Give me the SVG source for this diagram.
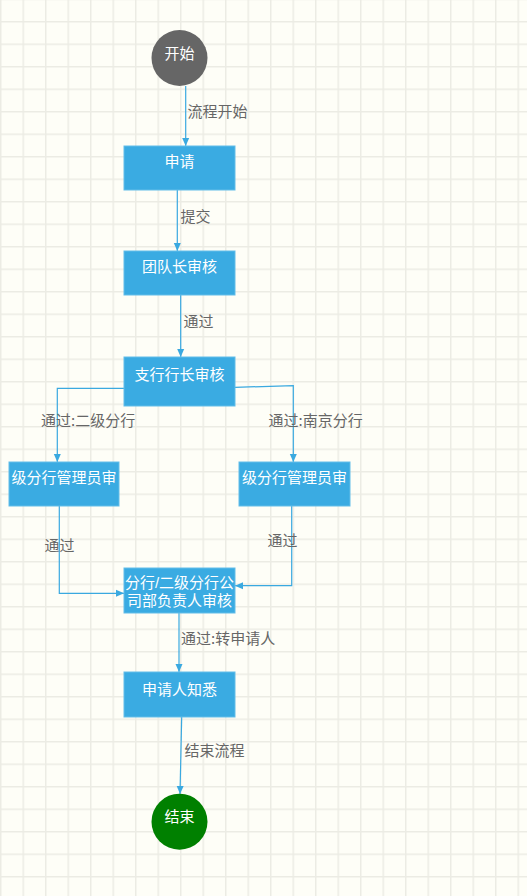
<svg xmlns="http://www.w3.org/2000/svg" width="527" height="896" viewBox="0 0 527 896">
<style>
.bg{fill:#fefef7}
.node rect{fill:#3aabe2;stroke:#62bde9;stroke-width:1}
.nt{font-family:"Noto Sans CJK SC","Noto Sans",sans-serif;font-size:15px;fill:#ffffff;text-anchor:middle}
.nt2{font-family:"Liberation Sans","Noto Sans CJK SC",sans-serif;font-size:15px;fill:#ffffff;text-anchor:middle}
.lb{font-family:"Noto Sans CJK SC","Noto Sans",sans-serif;font-size:15px;fill:#666666}
.edge{fill:none;stroke:#3aa9e0;stroke-width:1.2}
</style>
<defs>
<pattern id="grid" patternUnits="userSpaceOnUse" x="0" y="-1.5" width="22.5" height="22.5">
<rect x="0" y="0" width="1.5" height="22.5" fill="#ecece4"/>
<rect x="0" y="0" width="22.5" height="1.5" fill="#ecece4"/>
</pattern>
<marker id="arr" markerUnits="userSpaceOnUse" markerWidth="8" markerHeight="8" refX="8" refY="4" orient="auto">
<path d="M0,0.5 L8,4 L0,7.5 z" fill="#3aa9e0"/>
</marker>
</defs>
<rect class="bg" x="0" y="0" width="527" height="896"/>
<rect x="0" y="0" width="527" height="896" fill="url(#grid)"/>

<g id="connectors">
<path class="edge" d="M185.7 86 V146" marker-end="url(#arr)"/>
<path class="edge" d="M177.3 190 V251" marker-end="url(#arr)"/>
<path class="edge" d="M180.7 295 V357" marker-end="url(#arr)"/>
<path class="edge" d="M124 388.3 H57.3 V462" marker-end="url(#arr)"/>
<path class="edge" d="M235 387.3 L293.3 385.7 V462" marker-end="url(#arr)"/>
<path class="edge" d="M59.3 506 V593.3 H124" marker-end="url(#arr)"/>
<path class="edge" d="M291.7 506 V585.7 H235" marker-end="url(#arr)"/>
<path class="edge" d="M179 613 V672" marker-end="url(#arr)"/>
<path class="edge" d="M181.7 717 L180 794" marker-end="url(#arr)"/>
<text class="lb" x="187.5" y="117">流程开始</text>
<text class="lb" x="180.5" y="222">提交</text>
<text class="lb" x="183.5" y="327">通过</text>
<text class="lb" x="41" y="425.5">通过:二级分行</text>
<text class="lb" x="268.5" y="425.5">通过:南京分行</text>
<text class="lb" x="44.5" y="550.5">通过</text>
<text class="lb" x="267.5" y="546">通过</text>
<text class="lb" x="181" y="644">通过:转申请人</text>
<text class="lb" x="184.5" y="756">结束流程</text>
</g>

<g id="start">
<circle cx="179.5" cy="58" r="28" fill="#666666"/>
<text class="nt" x="179.5" y="58.5">开始</text>
</g>
<g id="apply" class="node">
<rect x="124" y="146" width="111" height="44"/>
<text class="nt" x="179.5" y="167">申请</text>
</g>
<g id="team" class="node">
<rect x="124" y="251" width="111" height="44"/>
<text class="nt" x="179.5" y="272">团队长审核</text>
</g>
<g id="branch" class="node">
<rect x="124" y="357" width="111" height="49"/>
<text class="nt" x="179.5" y="379.5">支行行长审核</text>
</g>
<g id="admin-left" class="node">
<rect x="9" y="462" width="110" height="44"/>
<text class="nt" x="64" y="483">级分行管理员审</text>
</g>
<g id="admin-right" class="node">
<rect x="239" y="462" width="111" height="44"/>
<text class="nt" x="294.5" y="483">级分行管理员审</text>
</g>
<g id="dept" class="node">
<rect x="124" y="568" width="111" height="45"/>
<text class="nt2" x="179.5" y="588">分行/二级分行公</text>
<text class="nt2" x="179.5" y="605.5">司部负责人审核</text>
</g>
<g id="notify" class="node">
<rect x="124" y="672" width="111" height="45"/>
<text class="nt" x="179.5" y="694.5">申请人知悉</text>
</g>
<g id="end">
<circle cx="179.5" cy="821.7" r="28" fill="#008000"/>
<text class="nt" x="179.5" y="822">结束</text>
</g>
</svg>
